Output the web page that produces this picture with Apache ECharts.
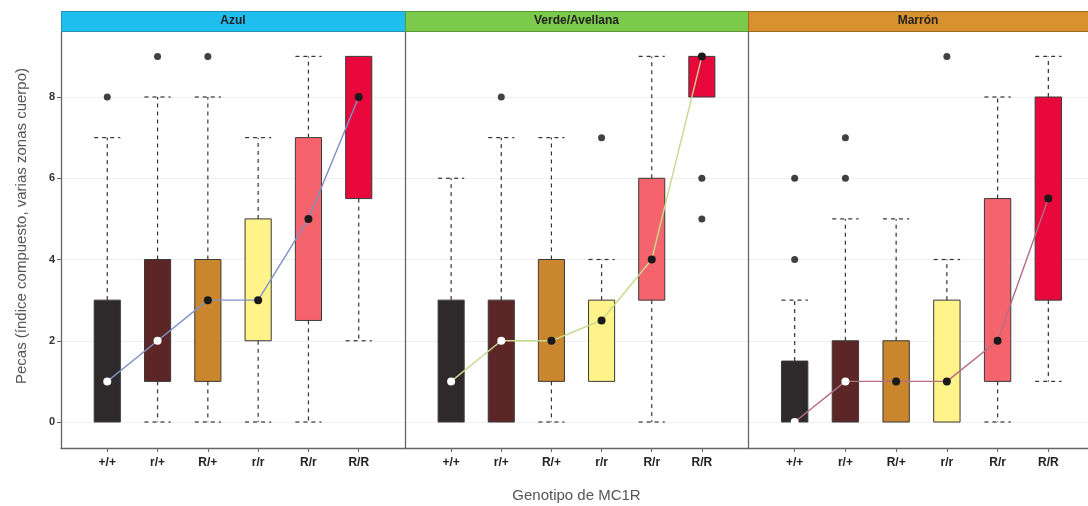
<!DOCTYPE html>
<html>
<head>
<meta charset="utf-8">
<script src="https://cdn.jsdelivr.net/npm/echarts@6/dist/echarts.min.js"></script>
<style>
  html, body { margin: 0; background: #fff; }
  #main { width: 1088px; height: 506px; }
</style>
</head>
<body>
<div id="main"></div>
<script>
// genotipos y paneles (color de ojos)
const genotypes = ['+/+', 'r/+', 'R/+', 'r/r', 'R/r', 'R/R']
const panelNames = ['Azul', 'Verde/Avellana', 'Marrón']
const yTicks = [0, 2, 4, 6, 8]

// [min, q1, mediana, q3, max] por genotipo
const azulStats = [[0, 0, 1, 3, 7], [0, 1, 2, 4, 8], [0, 1, 3, 4, 8], [0, 2, 3, 5, 7], [0, 2.5, 5, 7, 9], [2, 5.5, 8, 9, 9]]
const verdeStats = [[0, 0, 1, 3, 6], [0, 0, 2, 3, 7], [0, 1, 2, 4, 7], [1, 1, 2.5, 3, 4], [0, 3, 4, 6, 9], [8, 8, 9, 9, 9]]
const marronStats = [[0, 0, 0, 1.5, 3], [0, 0, 1, 2, 5], [0, 0, 1, 2, 5], [0, 0, 1, 3, 4], [0, 1, 2, 5.5, 8], [1, 3, 5.5, 8, 9]]

// atípicos: [genotipo, valor]
const azulOut = [[0, 8], [1, 9], [2, 9]]
const verdeOut = [[1, 8], [3, 7], [5, 6], [5, 5]]
const marronOut = [[0, 4], [0, 6], [1, 6], [1, 7], [3, 9]]

const allStats = [azulStats, verdeStats, marronStats]
const allOut = [azulOut, verdeOut, marronOut]

// estilos
const boxColors = ['#2e2a2b', '#5c2627', '#c9862d', '#fff38a', '#f5646c', '#e8083c']
const medianDot = ['#ffffff', '#ffffff', '#1a1a1a', '#1a1a1a', '#1a1a1a', '#1a1a1a']
const stripColors = ['#1ebfef', '#7cca4b', '#d8912f']
const stripBorders = ['#2a8fb0', '#5a9a35', '#a06a20']
const lineColors = ['#7f92c6', '#c6d98c', '#b66c82']
const gridLeft = [61, 405, 748]
const gridWidth = [344, 343, 347]

let myChart = echarts.init(document.getElementById('main'))

function boxItem(params, api) {
  const x = api.value(0)
  const lo = api.value(1), q1 = api.value(2), q3 = api.value(4), hi = api.value(5)
  const bw = api.size([1, 0])[0] * 0.52
  const pLo = api.coord([x, lo]), pQ1 = api.coord([x, q1])
  const pQ3 = api.coord([x, q3]), pHi = api.coord([x, hi])
  const cx = pQ1[0]
  const dash = { stroke: '#333', lineWidth: 1.2, lineDash: [4, 4], fill: null }
  const children = []
  if (hi > q3) {
    children.push({ type: 'line', shape: { x1: cx, y1: pQ3[1], x2: cx, y2: pHi[1] }, style: dash })
    children.push({ type: 'line', shape: { x1: cx - bw / 2, y1: pHi[1], x2: cx + bw / 2, y2: pHi[1] }, style: dash })
  }
  if (lo < q1) {
    children.push({ type: 'line', shape: { x1: cx, y1: pQ1[1], x2: cx, y2: pLo[1] }, style: dash })
    children.push({ type: 'line', shape: { x1: cx - bw / 2, y1: pLo[1], x2: cx + bw / 2, y2: pLo[1] }, style: dash })
  }
  children.push({
    type: 'rect',
    shape: { x: cx - bw / 2, y: pQ3[1], width: bw, height: pQ1[1] - pQ3[1] },
    style: { fill: boxColors[x], stroke: '#3a3a3a', lineWidth: 1 }
  })
  return { type: 'group', children }
}

const grids = [], xAxes = [], yAxes = [], series = [], graphics = []

panelNames.forEach((name, p) => {
  grids.push({ left: gridLeft[p], top: 32, width: gridWidth[p], height: 416, outerBoundsMode: 'none' })
  xAxes.push({
    type: 'value', gridIndex: p, min: -0.92, max: 5.92,
    axisLine: { show: true, onZero: false, lineStyle: { color: '#666', width: 1.3 } },
    axisTick: { show: true, customValues: [0, 1, 2, 3, 4, 5], length: 4, lineStyle: { color: '#666' } },
    axisLabel: {
      customValues: [0, 1, 2, 3, 4, 5], margin: 9,
      formatter: v => genotypes[Math.round(v)],
      fontFamily: 'Liberation Sans', fontWeight: 'bold', fontSize: 12, color: '#222'
    },
    splitLine: { show: false },
    name: p === 1 ? 'Genotipo de MC1R' : '',
    nameLocation: 'middle', nameGap: 40,
    nameTextStyle: { fontFamily: 'Liberation Sans', fontSize: 15, color: '#555' }
  })
  yAxes.push({
    type: 'value', gridIndex: p, min: -0.64, max: 9.6,
    axisLine: { show: true, onZero: false, lineStyle: { color: '#666', width: 1.3 } },
    axisTick: { show: p === 0, customValues: yTicks, length: 4, lineStyle: { color: '#666' } },
    axisLabel: {
      show: p === 0, customValues: yTicks, margin: 6,
      fontFamily: 'Liberation Sans', fontWeight: 'bold', fontSize: 11, color: '#333'
    },
    splitLine: { show: true, lineStyle: { color: '#efefef' } },
    name: p === 0 ? 'Pecas (índice compuesto, varias zonas cuerpo)' : '',
    nameLocation: 'middle', nameGap: 32,
    nameTextStyle: { fontFamily: 'Liberation Sans', fontSize: 15, color: '#555', padding: [0, 0, 0, 28] }
  })

  const stats = allStats[p]
  series.push({
    type: 'custom', xAxisIndex: p, yAxisIndex: p,
    data: stats.map((s, i) => [i].concat(s)),
    encode: { x: 0, y: [1, 2, 3, 4, 5] },
    renderItem: boxItem, z: 2
  })
  series.push({
    type: 'line', xAxisIndex: p, yAxisIndex: p,
    data: stats.map((s, i) => ({ value: [i, s[2]], itemStyle: { color: medianDot[i] } })),
    symbol: 'circle', symbolSize: 8,
    lineStyle: { color: lineColors[p], width: 1.4 },
    z: 3
  })
  series.push({
    type: 'scatter', xAxisIndex: p, yAxisIndex: p,
    data: allOut[p], symbolSize: 7,
    itemStyle: { color: '#111' }, z: 4
  })

  graphics.push({
    type: 'rect', left: gridLeft[p], top: 11,
    shape: { width: gridWidth[p], height: 20 },
    style: { fill: stripColors[p], stroke: stripBorders[p], lineWidth: 1 }
  })
  graphics.push({
    type: 'text', x: gridLeft[p] + (p === 2 ? 170 : gridWidth[p] / 2), y: 21,
    style: {
      text: name, align: 'center', verticalAlign: 'middle',
      font: 'bold 12px "Liberation Sans"', fill: '#222'
    }
  })
})

myChart.setOption({
  animation: false,
  grid: grids,
  xAxis: xAxes,
  yAxis: yAxes,
  series: series,
  graphic: graphics
})
</script>
</body>
</html>
